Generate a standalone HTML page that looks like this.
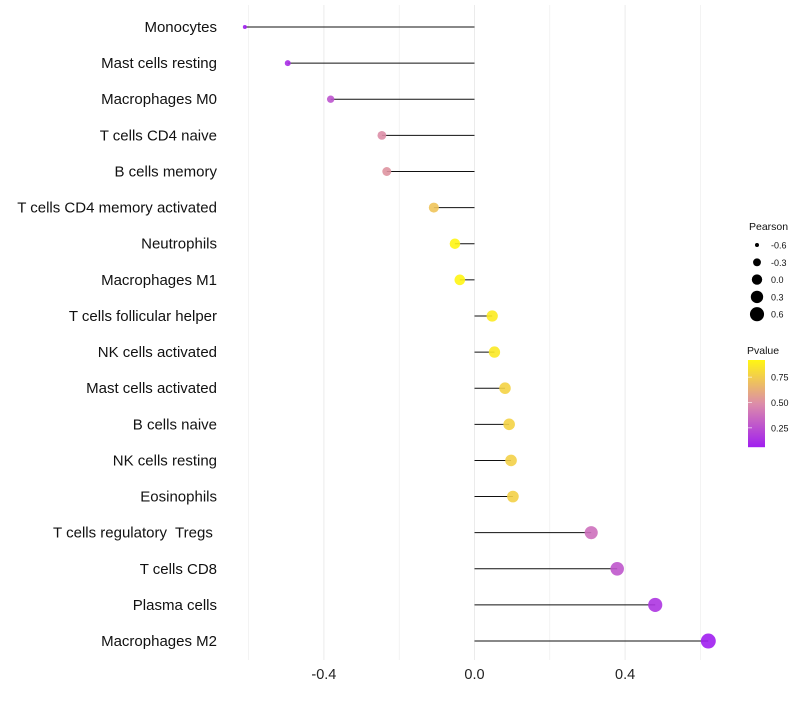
<!DOCTYPE html>
<html><head><meta charset="utf-8"><style>
body{margin:0;background:#fff;font-family:"Liberation Sans",sans-serif}
text{white-space:pre}
</style></head><body>
<svg id="c" width="800" height="700" xmlns="http://www.w3.org/2000/svg"></svg>
<script>
const cats=["Monocytes","Mast cells resting","Macrophages M0","T cells CD4 naive","B cells memory","T cells CD4 memory activated","Neutrophils","Macrophages M1","T cells follicular helper","NK cells activated","Mast cells activated","B cells naive","NK cells resting","Eosinophils","T cells regulatory  Tregs ","T cells CD8","Plasma cells","Macrophages M2"];
const pearson=[-0.61,-0.496,-0.382,-0.246,-0.233,-0.108,-0.052,-0.039,0.047,0.053,0.081,0.092,0.097,0.102,0.310,0.379,0.480,0.621];
const pvalue=[0.05,0.12,0.27,0.5,0.52,0.72,0.92,0.95,0.88,0.87,0.78,0.78,0.77,0.77,0.38,0.28,0.15,0.06];
const xTicks=[-0.4,0,0.4];
const xGrid=[-0.6,-0.2,0.2,0.6];
const sizeLegend=[-0.6,-0.3,0.0,0.3,0.6];
const colorTicks=[0.25,0.5,0.75];
const NS="http://www.w3.org/2000/svg";
const svg=document.getElementById('c');
const X=v=>474.5+v*376.5;
const Y=i=>27+i*36.12;
const R=v=>Math.sqrt(4+(v+0.61)/1.23*52);
function col(p){const t=Math.max(0,Math.min(1,(p-0.06)/0.86));
 const a=[160,30,240],m=[220,140,170],b=[255,245,20];let c;
 if(t<0.5){const s=t/0.5;c=a.map((x,k)=>x+(m[k]-x)*s);}else{const s=(t-0.5)/0.5;c=m.map((x,k)=>x+(b[k]-x)*s);}
 return `rgb(${c.map(Math.round).join(',')})`;}
function el(t,a,txt){const e=document.createElementNS(NS,t);for(const k in a)e.setAttribute(k,a[k]);if(txt!=null)e.textContent=txt;svg.appendChild(e);return e;}
xGrid.concat(xTicks).forEach(v=>{const g=el('line',{x1:X(v),x2:X(v),y1:5,y2:660,stroke:'#ebebeb','stroke-width':xTicks.includes(v)?1:0.6});

});
xTicks.forEach(v=>{const t=el('text',{x:X(v),y:679,'text-anchor':'middle','font-size':14.5,fill:'#222'},v.toFixed(1));

});
cats.forEach((c,i)=>{
 const t=el('text',{x:217,y:Y(i)+5,'text-anchor':'end','font-size':15,fill:'#111','xml:space':'preserve'},c);
 
 
 const l=el('line',{x1:X(0),x2:X(pearson[i]),y1:Y(i),y2:Y(i),stroke:'#111','stroke-width':1});
 
 
 const p=el('circle',{cx:X(pearson[i]),cy:Y(i),r:R(pearson[i]),fill:col(pvalue[i]),'fill-opacity':0.9});
 
 
});
let tt=el('text',{x:749,y:230,'font-size':10.5,fill:'#111'},'Pearson');


sizeLegend.forEach((v,i)=>{const y=245+i*17.3;
 const c=el('circle',{cx:757,cy:y,r:R(v)*0.95,fill:'#000'});
 
 
 const t=el('text',{x:771,y:y+3.5,'font-size':9,fill:'#111'},v.toFixed(1));
 
 });
tt=el('text',{x:747,y:354,'font-size':10.5,fill:'#111'},'Pvalue');


const CB=p=>447-(p-0.06)/0.86*87;
for(let y=360;y<447;y++){const r=el('rect',{x:748,y:y,width:17,height:1.2,fill:col(0.06+(447-y)/87*0.86)});
 
 }
colorTicks.forEach(v=>{const y=CB(v);
 const l=el('line',{x1:748,x2:752,y1:y,y2:y,stroke:'#fff','stroke-opacity':0.6});
 
 
 const t=el('text',{x:771,y:y+3.5,'font-size':9,fill:'#111'},v.toFixed(2));
 
 });
</script>
</body></html>
